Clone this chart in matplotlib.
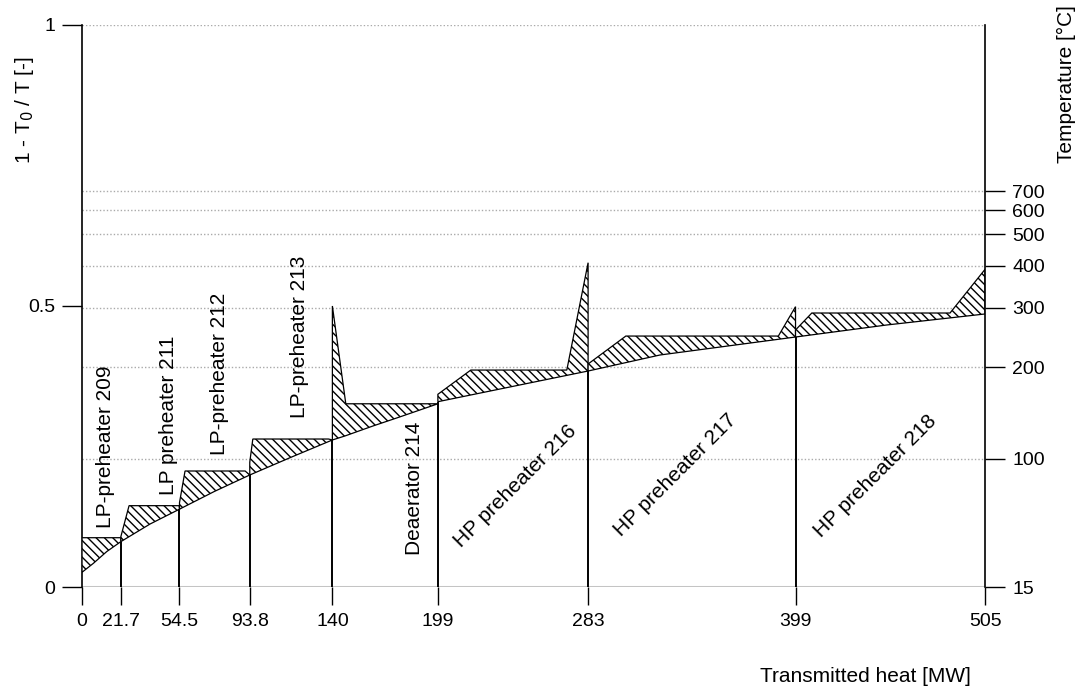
import numpy as np
import matplotlib.pyplot as plt

plt.rcParams['font.family'] = ['Liberation Sans', 'DejaVu Sans']
plt.rcParams['hatch.linewidth'] = 1.0

T0 = 288.15  # ambient temperature [K]

heat_ticks = [0, 21.7, 54.5, 93.8, 140, 199, 283, 399, 505]
temp_ticks = [15, 100, 200, 300, 400, 500, 600, 700]

stage_names = ['LP-preheater 209', 'LP preheater 211', 'LP-preheater 212',
               'LP-preheater 213', 'Deaerator 214', 'HP preheater 216',
               'HP preheater 217', 'HP preheater 218']

# heating side (bleed steam / drains), carnot factor vs transmitted heat
hot_q = [[0, 21.7],
         [21.7, 26.3, 54.3],
         [54.5, 57.6, 91.2],
         [93.8, 95.5, 137.8],
         [140, 147.5, 199],
         [199, 217.4, 271.1, 283],
         [283, 304.1, 389.4, 399],
         [399, 408.1, 485.4, 505]]
hot_y = [[0.0877, 0.0877],
         [0.0895, 0.1447, 0.1447],
         [0.150, 0.2064, 0.2064],
         [0.222, 0.2633, 0.2633],
         [0.500, 0.326, 0.326],
         [0.3429, 0.386, 0.386, 0.577],
         [0.3968, 0.4465, 0.4465, 0.4988],
         [0.4573, 0.4875, 0.4875, 0.5653]]

# heated side (condensate / feedwater)
cold_q = [[0, 6.3, 13.8, 21.7],
          [21.7, 38, 54.5],
          [54.5, 74, 93.8],
          [93.8, 117, 140],
          [140, 147, 162.7, 177.6, 199],
          [199, 241, 283],
          [283, 323.2, 399],
          [399, 450, 505]]
cold_y = [[0.0262, 0.042, 0.063, 0.0807],
          [0.0807, 0.112, 0.1385],
          [0.1385, 0.170, 0.1993],
          [0.1993, 0.231, 0.2616],
          [0.2616, 0.2687, 0.2865, 0.3025, 0.326],
          [0.3297, 0.357, 0.3843],
          [0.3843, 0.4128, 0.4448],
          [0.4448, 0.4662, 0.4858]]

# label anchor (q, carnot factor) and rotation
label_q = [13.4, 48.6, 76.6, 121.4, 186.2, 242.2, 331.6, 443.5]
label_y = [0.105, 0.164, 0.235, 0.301, 0.057, 0.18, 0.199, 0.1975]
label_rot = [90, 90, 90, 90, 90, 45, 45, 45]


def carnot(t_celsius):
    return 1 - T0 / (np.asarray(t_celsius, dtype=float) + 273.15)


fig = plt.figure(figsize=(10.78, 6.88), dpi=100)
ax = fig.add_axes([0.0761, 0.1468, 0.8377, 0.8169])
ax.set_xlim(0, 505)
ax.set_ylim(0, 1)

# reference lines
for yv in carnot(temp_ticks[1:]):
    ax.axhline(yv, color='#aaaaaa', lw=1, ls=(0, (1, 1.5)), zorder=1)
ax.axhline(1, color='#aaaaaa', lw=1, ls=(0, (1, 1.5)), zorder=1)
ax.axhline(0, color='#c4c4c4', lw=2.2, zorder=1)

# hatched exergy-loss areas
for i in range(len(stage_names)):
    xs = list(hot_q[i]) + list(cold_q[i][::-1])
    ys = list(hot_y[i]) + list(cold_y[i][::-1])
    ax.fill(xs, ys, facecolor='white', edgecolor='black', hatch='\\\\\\\\',
            lw=0.9, zorder=3)

# separators between the heaters
tops = [cold_y[i][0] for i in range(1, len(stage_names))]
ax.vlines(heat_ticks[1:-1], 0, tops, color='black', lw=1.4, zorder=4)

for i, name in enumerate(stage_names):
    if label_rot[i] == 90:
        ax.text(label_q[i], label_y[i], name, rotation=90, ha='center',
                va='bottom', fontsize=15)
    else:
        ax.text(label_q[i], label_y[i], name, rotation=45, ha='center',
                va='center', fontsize=15, rotation_mode='anchor')

for s in ['top', 'bottom', 'right']:
    ax.spines[s].set_visible(False)
ax.spines['left'].set_linewidth(1.2)

ax.set_xticks(heat_ticks)
ax.set_xticklabels([('%g' % v) for v in heat_ticks])
ax.set_yticks([0, 0.5, 1])
ax.set_yticklabels(['0', '0.5', '1'])
ax.tick_params(axis='x', length=13, width=1, pad=6, labelsize=14)
ax.tick_params(axis='y', length=14.5, width=1, pad=5, labelsize=14)

ax2 = ax.twinx()
ax2.set_ylim(0, 1)
ax2.set_yticks(carnot(temp_ticks))
ax2.set_yticklabels([str(t) for t in temp_ticks])
ax2.tick_params(axis='y', length=14.5, width=1, pad=5, labelsize=14)
for s in ['top', 'bottom', 'left']:
    ax2.spines[s].set_visible(False)
ax2.spines['right'].set_linewidth(1.2)

fig.text(25 / 1078, 1 - 110 / 688, r'1 - T$_0$ / T [-]', rotation=90,
         ha='center', va='center', fontsize=15)
fig.text(1066 / 1078, 1 - 84 / 688, 'Temperature [°C]', rotation=90,
         ha='center', va='center', fontsize=15)
fig.text(865 / 1078, 1 - 677 / 688, 'Transmitted heat [MW]',
         ha='center', va='center', fontsize=15)

fig.savefig('out.png', dpi=100)
